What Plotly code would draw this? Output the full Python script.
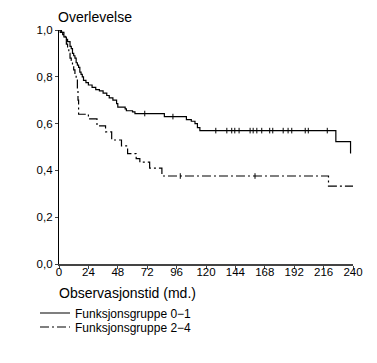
import numpy as np
import plotly.graph_objects as go

# Kaplan-Meier step data (months, survival)
g1_time = [0, 1, 3, 4, 6, 7, 9, 10, 11, 12, 13, 14, 15, 16, 17, 18, 19, 20, 22, 24, 27, 30, 33, 36, 39, 41, 44, 47, 48, 54, 55, 60, 62, 86, 104, 108, 111, 113, 115, 226, 238]
g1_surv = [1.0, 0.99, 0.98, 0.97, 0.96, 0.95, 0.93, 0.92, 0.90, 0.89, 0.88, 0.86, 0.85, 0.84, 0.82, 0.81, 0.80, 0.785, 0.775, 0.765, 0.755, 0.745, 0.74, 0.73, 0.72, 0.71, 0.70, 0.685, 0.67, 0.663, 0.655, 0.65, 0.643, 0.63, 0.617, 0.61, 0.60, 0.583, 0.57, 0.523, 0.472]
g1_censor = [70, 93, 128, 137, 141, 143.5, 147, 156, 158.5, 161.5, 165.5, 172, 174.5, 183, 187, 190, 201, 203.5, 219]

g2_time = [0, 2, 4, 5, 6, 7, 8, 9, 10, 11, 12, 13, 14, 15, 15.5, 16, 24, 31, 38, 43, 51, 56, 63, 66, 74, 84, 220, 240]
g2_surv = [1.0, 0.99, 0.98, 0.97, 0.94, 0.92, 0.90, 0.88, 0.87, 0.85, 0.83, 0.81, 0.79, 0.74, 0.70, 0.64, 0.62, 0.59, 0.565, 0.53, 0.505, 0.472, 0.45, 0.435, 0.41, 0.376, 0.333, 0.333]
g2_censor = [99, 160]

labels = ["Funksjonsgruppe 0\u22121", "Funksjonsgruppe 2\u22124"]
x_ticks = list(range(0, 241, 24))
y_ticks = [0.0, 0.2, 0.4, 0.6, 0.8, 1.0]
y_ticktext = ["0,0", "0,2", "0,4", "0,6", "0,8", "1,0"]


def step_value(times, surv, t):
    i = np.searchsorted(np.array(times), t, side="right") - 1
    return np.array(surv)[i]


fig = go.Figure()
fig.add_trace(go.Scatter(x=g1_time, y=g1_surv, mode="lines", line_shape="hv",
                         line=dict(color="black", width=1.2), name=labels[0],
                         legend="legend"))
fig.add_trace(go.Scatter(x=g2_time, y=g2_surv, mode="lines", line_shape="hv",
                         line=dict(color="black", width=1.2, dash="9px,3px,2px,3px"),
                         name=labels[1], legend="legend2"))
fig.add_trace(go.Scatter(x=g1_censor, y=step_value(g1_time, g1_surv, g1_censor), mode="markers",
                         marker=dict(symbol="line-ns", size=4, line=dict(color="black", width=1)),
                         showlegend=False, hoverinfo="skip"))
fig.add_trace(go.Scatter(x=g2_censor, y=step_value(g2_time, g2_surv, g2_censor), mode="markers",
                         marker=dict(symbol="line-ns", size=4, line=dict(color="black", width=1)),
                         showlegend=False, hoverinfo="skip"))

font = "Liberation Sans, Arial, sans-serif"
# page body has an 8px margin, so the figure is laid out 8px smaller
fig.update_layout(
    width=369, height=355,
    margin=dict(l=51, r=24, t=22, b=99, autoexpand=False),
    paper_bgcolor="white", plot_bgcolor="white",
    font=dict(family=font, color="black", size=11),
    xaxis=dict(range=[0, 240], tickvals=x_ticks, ticks="outside", ticklen=3,
               showline=True, linecolor="#444", linewidth=1.5, showgrid=False,
               zeroline=False, tickfont=dict(size=11.5), ticklabelstandoff=-7,
               automargin=False),
    yaxis=dict(range=[0, 1.0], tickvals=y_ticks, ticktext=y_ticktext, ticks="outside",
               ticklen=3, showline=True, linecolor="black", linewidth=1.2, showgrid=False,
               zeroline=False, tickfont=dict(size=11.5), automargin=False),
    legend=dict(x=(27 - 51) / 294, xanchor="left", y=(256 - 305) / 234, yanchor="middle",
                font=dict(size=12), bgcolor="rgba(0,0,0,0)", itemwidth=30),
    legend2=dict(x=(27 - 51) / 294, xanchor="left", y=(256 - 319) / 234, yanchor="middle",
                 font=dict(size=12), bgcolor="rgba(0,0,0,0)", itemwidth=30),
    annotations=[
        dict(text="Overlevelse", xref="paper", yref="paper", x=-0.008, y=256 / 234,
             xanchor="left", yanchor="top", showarrow=False, font=dict(size=14),
             borderpad=0),
        dict(text="Observasjonstid (md.)", xref="paper", yref="paper", x=-0.008,
             y=(256 - 285) / 234, xanchor="left", yanchor="middle", showarrow=False,
             font=dict(size=14)),
    ],
)

fig.write_html("out.html")
